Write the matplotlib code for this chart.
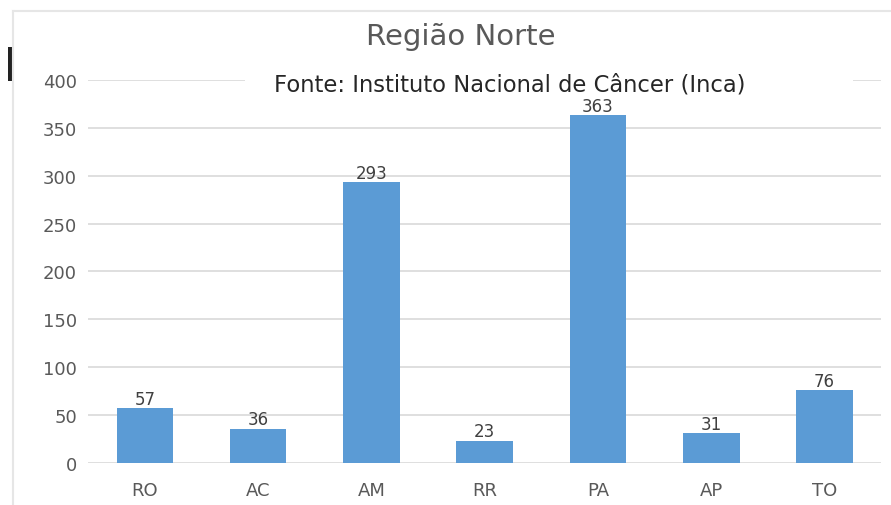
import matplotlib.pyplot as plt
from matplotlib.patches import Rectangle
from matplotlib.lines import Line2D

plt.rcParams['font.family'] = ['DejaVu Sans']

estados = ["RO", "AC", "AM", "RR", "PA", "AP", "TO"]
casos = [57, 36, 293, 23, 363, 31, 76]
y_ticks = [0, 50, 100, 150, 200, 250, 300, 350, 400]

azul = "#5B9BD5"
cinza_texto = "#595959"
cinza_grade = "#D9D9D9"

fig = plt.figure(figsize=(8.91, 5.06), dpi=100)
ax = fig.add_axes([0.099, 0.083, 0.89, 0.757])

x = range(len(estados))
barras = ax.bar(x, casos, width=0.5, color=azul, zorder=2)
ax.bar_label(barras, labels=[str(v) for v in casos], padding=0.5,
             fontsize=12, color="#404040")

ax.set_xlim(-0.5, len(estados) - 0.5)
ax.set_ylim(0, 400)
ax.set_yticks(y_ticks)
ax.set_xticks(list(x))
ax.set_xticklabels(estados)
ax.tick_params(axis="both", length=0, labelsize=13, labelcolor=cinza_texto)
ax.tick_params(axis="x", pad=13)
ax.tick_params(axis="y", pad=8)
ax.yaxis.grid(True, color=cinza_grade, linewidth=1.2, zorder=0)
ax.set_axisbelow(True)
for s in ax.spines.values():
    s.set_visible(False)

# titulo e fonte (a caixa branca da fonte interrompe a linha de 400)
fig.text(0.517, 0.927, "Região Norte", ha="center", va="center",
         fontsize=21, color=cinza_texto)
fig.add_artist(Rectangle((0.275, 0.827), 0.682, 0.022, facecolor="white",
                         edgecolor="none", transform=fig.transFigure, zorder=4))
fig.text(0.572, 0.832, "Fonte: Instituto Nacional de Câncer (Inca)",
         ha="center", va="center", fontsize=16.3, color="#262626", zorder=5)

# moldura do grafico
fig.add_artist(Line2D([0.0146, 1.0], [0.976, 0.976], color="#E6E6E6",
                      linewidth=1.5, transform=fig.transFigure))
fig.add_artist(Line2D([0.0146, 0.0146], [0.0, 0.976], color="#E6E6E6",
                      linewidth=1.5, transform=fig.transFigure))
fig.add_artist(Rectangle((0.009, 0.838), 0.0056, 0.067, facecolor="#222222",
                         edgecolor="none", linewidth=0, transform=fig.transFigure))

fig.savefig("out.png", dpi=100)
